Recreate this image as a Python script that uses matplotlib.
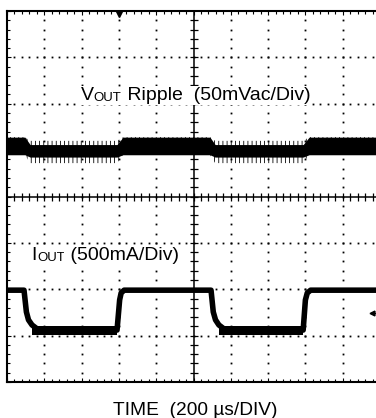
import numpy as np
import matplotlib.pyplot as plt

plt.rcParams['font.family'] = ['Liberation Sans', 'DejaVu Sans']
plt.rcParams['hatch.linewidth'] = 0.6

# scope screen: 10 x 8 divisions, values in divisions
n_xdiv = 10
n_ydiv = 8

# I_OUT load step trace (time in div, level in div)
iout_t = [0.00, 0.456, 0.52, 0.576, 0.67, 0.80, 0.95, 2.95, 3.02, 3.06, 3.14,
          5.47, 5.53, 5.59, 5.68, 5.81, 5.96, 7.94, 8.00, 8.05, 8.14, 10.0]
iout_y = [1.98, 1.98, 1.51, 1.34, 1.23, 1.15, 1.12, 1.12, 1.77, 1.92, 1.98,
          1.98, 1.51, 1.34, 1.23, 1.15, 1.12, 1.12, 1.77, 1.92, 1.98, 1.98]
# thicker noisy band on the low plateau
iout_low_t = [0.68, 2.95, 5.69, 7.94]
iout_low_top = 1.21
iout_low_bot = 1.02

# V_OUT ripple envelope
rip_t = [0.00, 0.48, 0.62, 2.95, 3.11, 5.44, 5.58, 7.94, 8.10, 10.0]
rip_top = [5.28, 5.28, 5.12, 5.12, 5.28, 5.28, 5.12, 5.12, 5.28, 5.28]
rip_bot = [4.90, 4.90, 4.85, 4.85, 4.90, 4.90, 4.85, 4.85, 4.90, 4.90]
grass_top = [5.28, 5.28, 5.20, 5.20, 5.28, 5.28, 5.20, 5.20, 5.28, 5.28]
grass_bot = [4.90, 4.90, 4.72, 4.72, 4.90, 4.90, 4.72, 4.72, 4.90, 4.90]

fig = plt.figure(figsize=(3.76, 4.18), dpi=100)
ax = fig.add_axes([7 / 376, 36 / 418, 373 / 376, 371 / 418])
ax.set_xlim(0, n_xdiv)
ax.set_ylim(0, n_ydiv)

# frame + inward ticks
for s in ax.spines.values():
    s.set_linewidth(1.5)
ax.set_xticks(np.arange(0, n_xdiv + 1, 1))
ax.set_yticks(np.arange(0, n_ydiv + 1, 1))
ax.set_xticks(np.arange(0, n_xdiv + 0.01, 0.2), minor=True)
ax.set_yticks(np.arange(0, n_ydiv + 0.01, 0.2), minor=True)
ax.tick_params(which='both', direction='in', top=True, right=True,
               labelbottom=False, labelleft=False, width=0.8)
ax.tick_params(which='major', length=3.2)
ax.tick_params(which='minor', length=2.0)

# dotted graticule
fine_x = np.arange(0.2, n_xdiv, 0.2)
fine_y = np.arange(0.2, n_ydiv, 0.2)
for gy in range(1, n_ydiv):
    if gy == n_ydiv // 2:
        continue
    ax.plot(fine_x, np.full(len(fine_x), gy), ls='none', marker='s',
            ms=1.3, mec='none', color='black', zorder=1)
for gx in range(1, n_xdiv):
    if gx == n_xdiv // 2:
        continue
    ax.plot(np.full(len(fine_y), gx), fine_y, ls='none', marker='s',
            ms=1.3, mec='none', color='black', zorder=1)

# centre cross with ticks
ax.axhline(n_ydiv / 2, color='black', lw=1.1, zorder=1)
ax.axvline(n_xdiv / 2, color='black', lw=1.1, zorder=1)
ax.plot(fine_x, np.full(len(fine_x), n_ydiv / 2), ls='none', marker='|',
        ms=6, mew=0.9, color='black', zorder=1)
ax.plot(np.full(len(fine_y), n_xdiv / 2), fine_y, ls='none', marker='_',
        ms=6, mew=0.9, color='black', zorder=1)

# ripple trace
ax.fill_between(rip_t, rip_bot, rip_top, color='black', lw=0, zorder=3)
ax.fill_between(rip_t, grass_bot, grass_top, facecolor='none',
                edgecolor='black', hatch='||||', lw=0, zorder=3)

# load current trace
ax.plot(iout_t, iout_y, color='black', lw=4.0, solid_joinstyle='round',
        zorder=3)
for i in range(0, len(iout_low_t), 2):
    ax.fill_between(iout_low_t[i:i + 2], iout_low_bot, iout_low_top,
                    color='black', lw=0, zorder=3)

# trigger marker and channel ground marker
ax.plot([3], [7.93], marker='v', ms=4.5, color='black', clip_on=False)
ax.plot([9.79, 10.0], [1.49, 1.49], color='black', lw=0.9)
ax.plot([9.79], [1.49], marker='<', ms=3.5, color='black')

# labels (white backing hides the graticule behind them)
box = dict(facecolor='white', edgecolor='none', pad=0.5)
t1 = ax.text(1.98, 6.08, 'V', fontsize=14, va='baseline', ha='left',
             bbox=box, zorder=2)
t2 = ax.annotate('OUT', xy=(1, 0), xycoords=t1, va='bottom', ha='left',
                 fontsize=9.5, bbox=box, zorder=2)
ax.annotate(' Ripple  (50mVac/Div)', xy=(1, 0), xycoords=t2, va='bottom',
            ha='left', fontsize=14, bbox=box, zorder=2)

u1 = ax.text(0.66, 2.63, 'I', fontsize=14, va='baseline', ha='left',
             bbox=box, zorder=2)
u2 = ax.annotate('OUT', xy=(1, 0), xycoords=u1, va='bottom', ha='left',
                 fontsize=9.5, bbox=box, zorder=2)
ax.annotate(' (500mA/Div)', xy=(1, 0), xycoords=u2, va='bottom',
            ha='left', fontsize=14, bbox=box, zorder=2)

fig.text(0.5186, 0.0072, 'TIME  (200 µs/DIV)', fontsize=13.8,
         ha='center', va='baseline')

fig.savefig('out.png', dpi=100)
